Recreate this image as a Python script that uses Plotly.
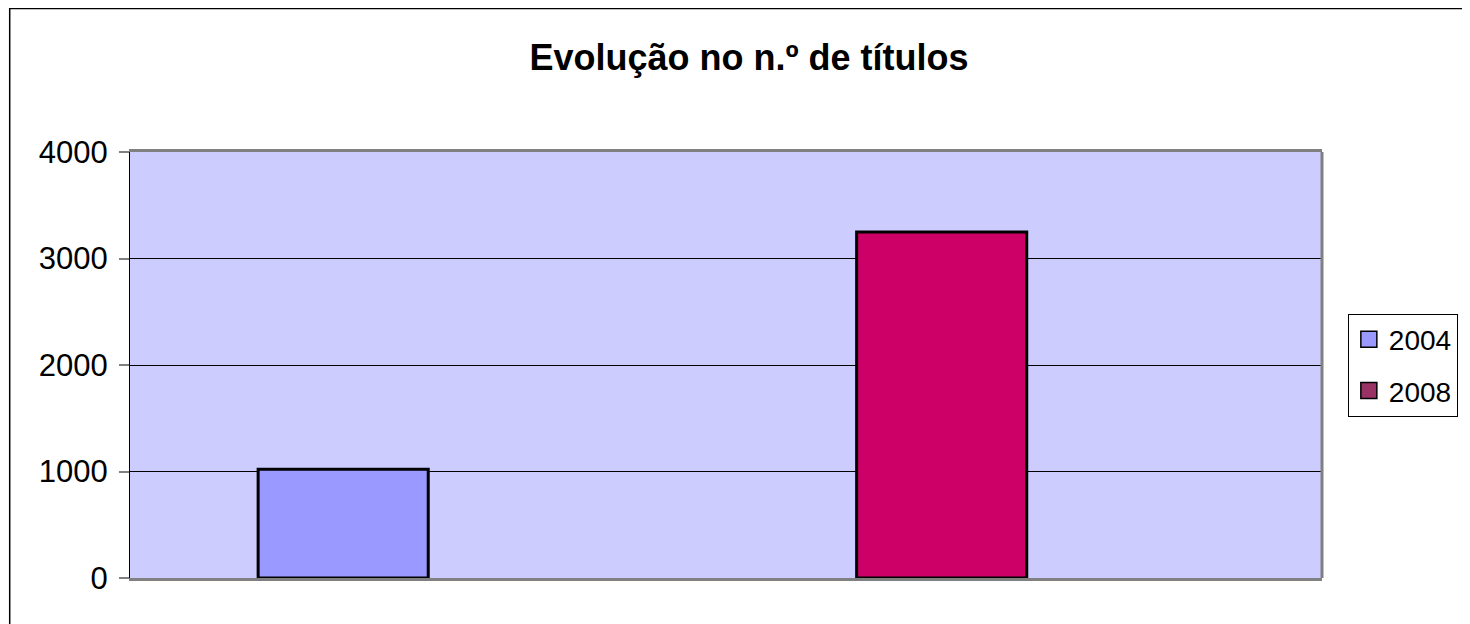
import plotly.graph_objects as go

# ---- data ----
series_names = ["2004", "2008"]
series_values = [1020, 3250]
bar_colors = ["#9999FF", "#CC0066"]
legend_colors = ["#9999FF", "#993366"]
y_ticks = [0, 1000, 2000, 3000, 4000]
title_text = "Evolução no n.º de títulos"

# layout geometry (figure px; page body adds an 8px margin)
O = 8
W, H = 1470 - O, 624 - O
L, R, T, B = 130 - O, 1329 - O, 152 - O, 578 - O
pw, ph = R - L, B - T

bar_w = 0.1427
offsets = [-0.3925, 0.1096]

FONT = "Liberation Sans, Arial, sans-serif"

fig = go.Figure()
for name, val, col, off in zip(series_names, series_values, bar_colors, offsets):
    fig.add_trace(go.Bar(
        x=[0], y=[val], name=name, width=bar_w, offset=off,
        marker=dict(color=col, line=dict(color="black", width=3)),
        showlegend=False,
    ))
for i, (name, col) in enumerate(zip(series_names, legend_colors)):
    fig.add_trace(go.Scatter(
        x=[None], y=[None], mode="markers", name=name, legendgroup=f"g{i}",
        marker=dict(symbol="square", size=16, color=col,
                    line=dict(color="black", width=1.5)),
    ))

fig.update_layout(
    width=W, height=H,
    margin=dict(l=L, r=W - R, t=T, b=H - B, pad=0),
    paper_bgcolor="white",
    plot_bgcolor="#CCCCFF",
    barmode="overlay",
    font=dict(family=FONT, color="black"),
    title=dict(text="<b>" + title_text + "</b>", x=(749 - O) / W, xref="container",
               xanchor="center", y=1 - (57 - O) / H, yref="container", yanchor="middle",
               font=dict(size=36, family=FONT, color="black")),
    xaxis=dict(range=[-0.5, 0.5], showticklabels=False, showgrid=False,
               zeroline=False, showline=True, linecolor="#808080", linewidth=3,
               mirror=True, fixedrange=True),
    yaxis=dict(range=[0, 4000], tickvals=y_ticks, ticktext=[str(v) for v in y_ticks],
               showgrid=True, gridcolor="black", gridwidth=1, zeroline=False,
               showline=True, linecolor="black", linewidth=1,
               ticks="outside", ticklen=10, tickcolor="#808080", tickwidth=1.5,
               tickfont=dict(size=31, family=FONT, color="black"),
               ticklabelstandoff=5),
    legend=dict(x=(1355 - O - L) / pw, xanchor="left", y=(B - (365 - O)) / ph,
                yanchor="middle",
                bgcolor="white", bordercolor="black", borderwidth=1,
                font=dict(size=28, family=FONT, color="black"),
                traceorder="grouped", tracegroupgap=12,
                itemwidth=30),
    shapes=[
        dict(type="line", xref="paper", yref="paper", x0=1, x1=1, y0=0, y1=1,
             line=dict(color="#808080", width=3)),
        dict(type="rect", xref="paper", yref="paper",
             x0=(1 - L) / pw, x1=1.5, y0=-0.5, y1=(B - 0.5) / ph,
             line=dict(color="black", width=1.5), fillcolor="rgba(0,0,0,0)",
             layer="below"),
    ],
)

fig.write_html("out.html")
